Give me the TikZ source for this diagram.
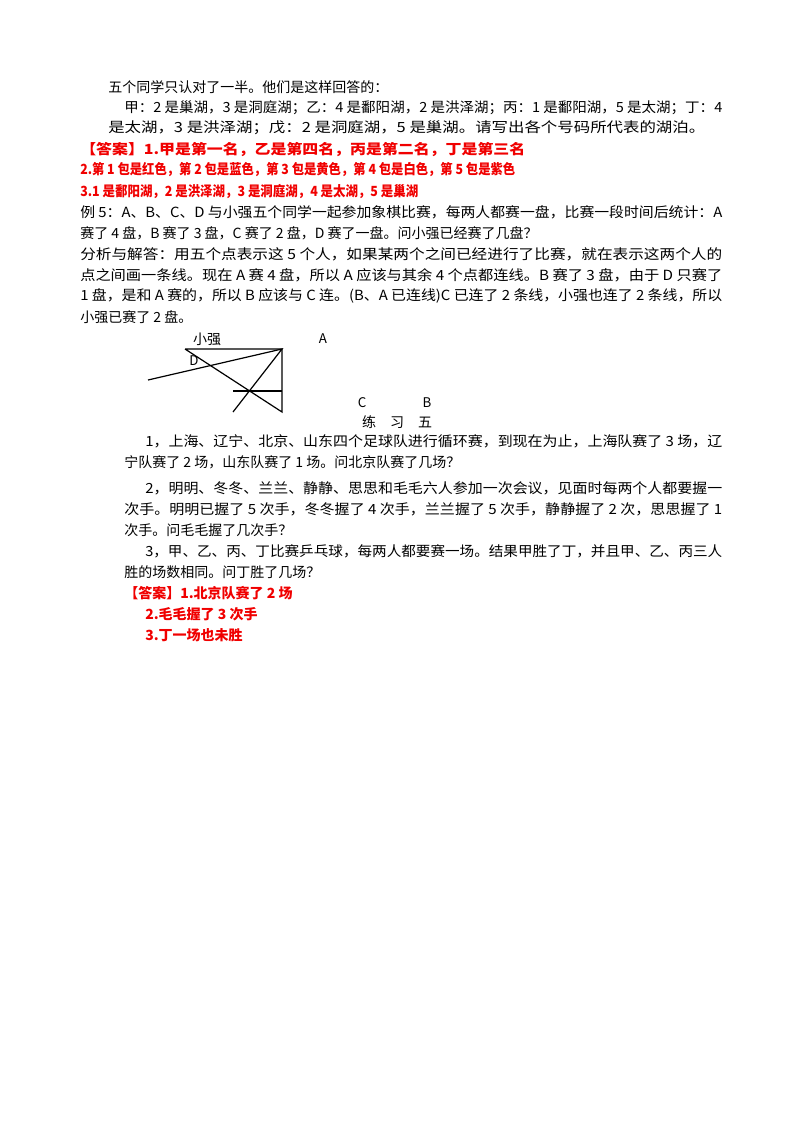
\documentclass[tikz,border=0pt]{standalone}
\usepackage{fontspec}
\usepackage{graphicx}
\setmainfont{Noto Sans CJK SC}
\definecolor{ans}{RGB}{240,0,0}
\newcommand{\fl}[2]{\resizebox{\dimexpr #1pt*3/4\relax}{\height}{#2}}
\begin{document}
\begin{tikzpicture}[x=0.75pt,y=-0.75pt,
  t/.style={anchor=west,inner sep=0pt,font=\fontsize{10.5}{12}\selectfont},
  r/.style={t,text=ans,font=\fontsize{10.5}{12}\selectfont\bfseries},
  fig/.style={line width=0.9pt}]
\useasboundingbox (0,0) rectangle (800,1132);
\node[t] (l1) at (108,87) {五个同学只认对了一半。他们是这样回答的：};
\node[t] (l2) at (124,108) {\fl{598}{甲：2 是巢湖，3 是洞庭湖；乙：4 是鄱阳湖，2 是洪泽湖；丙：1 是鄱阳湖，5 是太湖；丁：4}};
\node[t] (l3) at (108,128) {\fl{597}{是太湖，3 是洪泽湖；戊：2 是洞庭湖，5 是巢湖。请写出各个号码所代表的湖泊。}};
\node[r] (a1) at (80,150) {\fl{445}{【答案】1.甲是第一名，乙是第四名，丙是第二名，丁是第三名}};
\node[r] (a2) at (80,170) {\fl{435}{2.第 1 包是红色，第 2 包是蓝色，第 3 包是黄色，第 4 包是白色，第 5 包是紫色}};
\node[r] (a3) at (80,191) {\fl{338}{3.1 是鄱阳湖，2 是洪泽湖，3 是洞庭湖，4 是太湖，5 是巢湖}};
\node[t] (e1) at (80,212) {\fl{642}{例 5：A、B、C、D 与小强五个同学一起参加象棋比赛，每两人都赛一盘，比赛一段时间后统计：A}};
\node[t] (e2) at (80,233) {赛了 4 盘，B 赛了 3 盘，C 赛了 2 盘，D 赛了一盘。问小强已经赛了几盘？};
\node[t] (e3) at (80,254) {\fl{642}{分析与解答：用五个点表示这 5 个人，如果某两个之间已经进行了比赛，就在表示这两个人的}};
\node[t] (e4) at (80,275) {\fl{642}{点之间画一条线。现在 A 赛 4 盘，所以 A 应该与其余 4 个点都连线。B 赛了 3 盘，由于 D 只赛了}};
\node[t] (e5) at (80,296) {\fl{642}{1 盘，是和 A 赛的，所以 B 应该与 C 连。(B、A 已连线)C 已连了 2 条线，小强也连了 2 条线，所以}};
\node[t] (e6) at (80,317) {小强已赛了 2 盘。};
% figure
\coordinate (p1) at (185,349);
\coordinate (p2) at (282,349);
\coordinate (p3) at (282,412);
\coordinate (p4) at (148,380);
\coordinate (p5) at (233,412);
\coordinate (p6) at (233,391);
\coordinate (p7) at (282,391);
\draw[fig] (p1) -- (p2) -- (p3) -- (p1);
\draw[fig] (p4) -- (p2) -- (p5);
\draw[fig] (p6) -- (p7);
\node[t,anchor=center] (xq) at (207,339) {小强};
\node[t,anchor=center,font=\fontsize{10}{12}\selectfont] (D) at (194,361) {D};
\node[t,anchor=center,font=\fontsize{10}{12}\selectfont] (A) at (323,339) {A};
\node[t,anchor=center,font=\fontsize{10}{12}\selectfont] (C) at (362,403) {C};
\node[t,anchor=center,font=\fontsize{10}{12}\selectfont] (B) at (427,403) {B};
\node[t,anchor=center] (title) at (397,422) {练\quad 习\quad 五};
\node[t] (q1) at (145,441) {\fl{577}{1，上海、辽宁、北京、山东四个足球队进行循环赛，到现在为止，上海队赛了 3 场，辽}};
\node[t] (q1b) at (124,462) {宁队赛了 2 场，山东队赛了 1 场。问北京队赛了几场？};
\node[t] (q2) at (145,488) {\fl{577}{2，明明、冬冬、兰兰、静静、思思和毛毛六人参加一次会议，见面时每两个人都要握一}};
\node[t] (q2b) at (124,509) {\fl{598}{次手。明明已握了 5 次手，冬冬握了 4 次手，兰兰握了 5 次手，静静握了 2 次，思思握了 1}};
\node[t] (q2c) at (124,530) {次手。问毛毛握了几次手？};
\node[t] (q3) at (145,551) {\fl{577}{3，甲、乙、丙、丁比赛乒乓球，每两人都要赛一场。结果甲胜了丁，并且甲、乙、丙三人}};
\node[t] (q3b) at (124,572) {胜的场数相同。问丁胜了几场？};
\node[r] (b1) at (124,593) {【答案】1.北京队赛了 2 场};
\node[r] (b2) at (145,614) {2.毛毛握了 3 次手};
\node[r] (b3) at (145,635) {3.丁一场也未胜};
\end{tikzpicture}
\end{document}
